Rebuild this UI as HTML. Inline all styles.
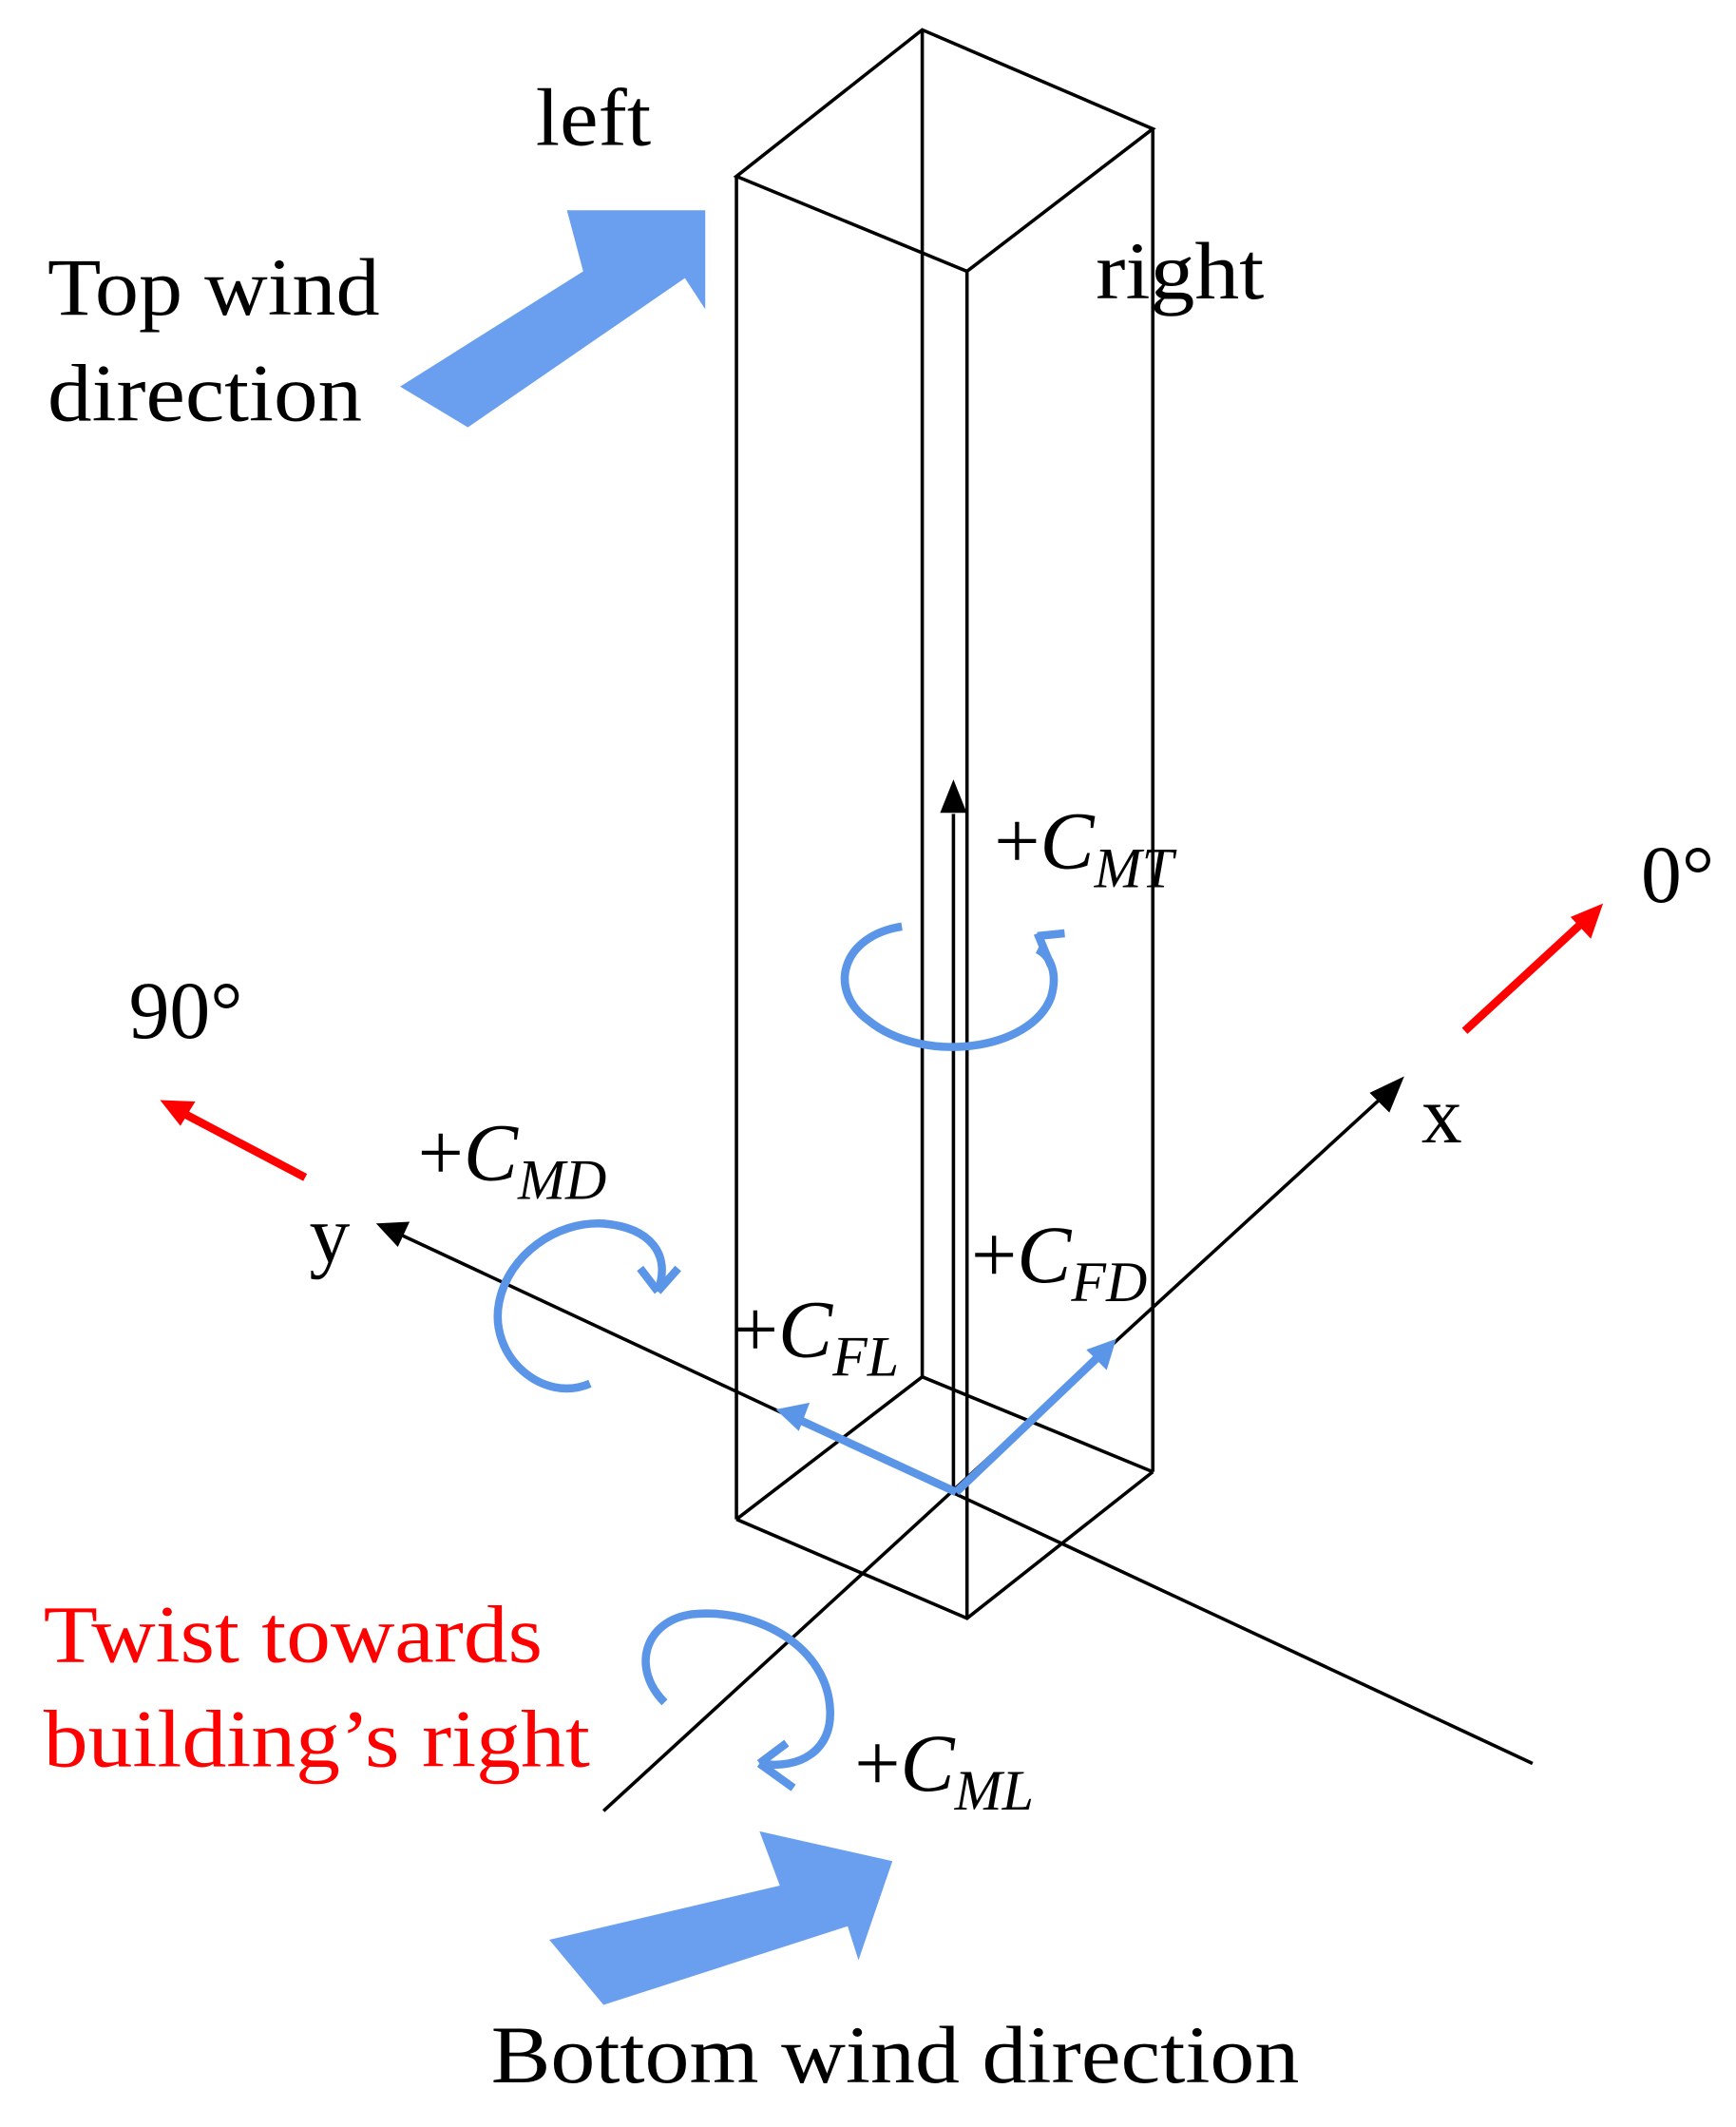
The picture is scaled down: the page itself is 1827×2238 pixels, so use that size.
<!DOCTYPE html>
<html><head><meta charset="utf-8"><style>
html,body{margin:0;padding:0;background:#fff;}
svg{display:block;}
text{font-family:"Liberation Serif",serif;}
</style></head><body>
<svg width="1827" height="2238" viewBox="0 0 1280 1568" xmlns="http://www.w3.org/2000/svg">
<!-- building -->
<g stroke="#000" stroke-width="2.5" fill="none">
<polygon points="543,130 680,22 850,95 713,200"/>
<line x1="543" y1="130" x2="543" y2="1120"/>
<line x1="713" y1="200" x2="713" y2="1193"/>
<line x1="850" y1="95" x2="850" y2="1085"/>
<line x1="680" y1="22" x2="680" y2="1015"/>
<polyline points="543,1120 713,1193 850,1085"/>
<polyline points="543,1120 680,1015 850,1085"/>
<line x1="703" y1="1100" x2="703" y2="600"/>
<path d="M695,598 L703,578 L711,598 Z" fill="#000"/>
<line x1="445" y1="1335" x2="1020" y2="808"/>
<path d="M1033,796 L1024,818 L1012,806 Z" fill="#000"/>
<line x1="1130" y1="1300" x2="295" y2="910"/>
<path d="M280,903 L300,902 L293,917 Z" fill="#000"/>
</g>
<!-- red arrows -->
<line x1="1080" y1="760" x2="1168" y2="679" stroke="#f00" stroke-width="6"/>
<path d="M1182,666 L1173,692 L1158,676 Z" fill="#f00"/>
<line x1="225" y1="868" x2="132" y2="819" stroke="#f00" stroke-width="6"/>
<path d="M118,811 L144,812 L133,830 Z" fill="#f00"/>
<!-- blue small arrows -->
<g stroke="#5b95e8" stroke-width="6" fill="none">
<line x1="705" y1="1100" x2="590" y2="1047"/>
<line x1="705" y1="1100" x2="810" y2="1000"/>
</g>
<path d="M572,1039 L597,1034 L589,1055 Z" fill="#5b95e8"/>
<path d="M823,987 L816,1010 L801,995 Z" fill="#5b95e8"/>
<!-- big arrows -->
<polygon points="295,285 430,200 418,155 520,155 520,228 505,205 345,315" fill="#6a9ff0"/>
<polygon points="405,1430 575,1390 560,1350 658,1372 633,1445 625,1420 445,1478" fill="#6a9ff0"/>
<!-- curved -->
<g stroke="#5b95e8" stroke-width="6" fill="none">
<path d="M665,683 C620,690 610,730 640,752 C680,785 760,775 775,735 C780,718 775,705 765,700"/>
<path d="M775,712 L765,688 M765,690 L785,688"/>
<path d="M435,1020 C400,1035 360,1000 368,960 C375,925 410,900 445,902 C480,905 495,925 485,952"/>
<path d="M485,952 L472,935 M485,952 L500,935"/>
<path d="M490,1255 C465,1230 475,1195 510,1190 C560,1185 610,1215 612,1260 C614,1290 590,1305 560,1300"/>
<path d="M560,1300 L580,1285 M560,1300 L585,1318"/>
</g>
<!-- text -->
<g font-size="60" fill="#000">
<text x="395" y="107" textLength="85" lengthAdjust="spacingAndGlyphs">left</text>
<text x="808" y="220" textLength="124" lengthAdjust="spacingAndGlyphs">right</text>
<text x="35" y="232" textLength="245" lengthAdjust="spacingAndGlyphs">Top wind</text>
<text x="35" y="310" textLength="232" lengthAdjust="spacingAndGlyphs">direction</text>
<text x="1210" y="665">0°</text>
<text x="95" y="765">90°</text>
<text x="1048" y="842">x</text>
<text x="228" y="930">y</text>
<text x="362" y="1535" textLength="596" lengthAdjust="spacingAndGlyphs">Bottom wind direction</text>
<text x="733" y="640">+<tspan font-style="italic">C</tspan><tspan font-style="italic" font-size="42" dy="14">MT</tspan></text>
<text x="308" y="870">+<tspan font-style="italic">C</tspan><tspan font-style="italic" font-size="42" dy="14">MD</tspan></text>
<text x="716" y="945">+<tspan font-style="italic">C</tspan><tspan font-style="italic" font-size="42" dy="14">FD</tspan></text>
<text x="540" y="1000">+<tspan font-style="italic">C</tspan><tspan font-style="italic" font-size="42" dy="14">FL</tspan></text>
<text x="630" y="1320">+<tspan font-style="italic">C</tspan><tspan font-style="italic" font-size="42" dy="14">ML</tspan></text>
</g>
<g font-size="60" fill="#f00">
<text x="32" y="1225" textLength="368" lengthAdjust="spacingAndGlyphs">Twist towards</text>
<text x="32" y="1302" textLength="403" lengthAdjust="spacingAndGlyphs">building’s right</text>
</g>
</svg>
</body></html>
